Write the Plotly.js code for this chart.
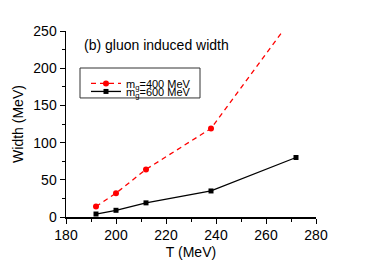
<!DOCTYPE html>
<html><head><meta charset="utf-8">
<script src="https://cdn.plot.ly/plotly-3.0.1.min.js"></script>
<style>html,body{margin:0;padding:0;background:#fff}</style>
</head><body>
<div id="chart" style="width:368px;height:260px"></div>
<script>
const T400 = [192, 200, 212, 238, 272];
const W400 = [14, 32, 64, 119, 274];
const T600 = [192, 200, 212, 238, 272];
const W600 = [4, 9, 19, 35, 80];
const name400 = 'm<sub>g</sub>=400 MeV';
const name600 = 'm<sub>g</sub>=600 MeV';
const label = '(b) gluon induced width';

const font = {family: 'Liberation Sans, Arial, sans-serif', color: '#000'};
const data = [
  {x: T400, y: W400, name: name400, mode: 'lines+markers', type: 'scatter', legend: 'legend',
   line: {color: '#ff0000', dash: '5px,4px', width: 1.3},
   marker: {color: '#ff0000', symbol: 'circle', size: 6}, cliponaxis: true},
  {x: T600, y: W600, name: name600, mode: 'lines+markers', type: 'scatter', legend: 'legend2',
   line: {color: '#000', width: 1.3},
   marker: {color: '#000', symbol: 'square', size: 5}}
];
const legFont = Object.assign({size: 11}, font);
const layout = {
  width: 368, height: 260,
  margin: {l: 66, r: 52, t: 31, b: 43},
  paper_bgcolor: '#fff', plot_bgcolor: '#fff',
  font: Object.assign({size: 13}, font),
  showlegend: true,
  legend: {x: 0.08, y: 0.796, xanchor: 'left', yanchor: 'top', borderwidth: 0,
    bgcolor: 'rgba(255,255,255,0)', font: legFont, itemwidth: 30},
  legend2: {x: 0.08, y: 0.753, xanchor: 'left', yanchor: 'top', borderwidth: 0,
    bgcolor: 'rgba(255,255,255,0)', font: legFont, itemwidth: 30},
  shapes: [{type: 'rect', xref: 'paper', yref: 'paper', x0: 0.056, x1: 0.536, y0: 0.64, y1: 0.801,
    line: {color: '#333', width: 1}, fillcolor: 'rgba(0,0,0,0)', layer: 'above'}],
  xaxis: {range: [180, 280], dtick: 20, tick0: 180, showgrid: false, zeroline: false,
    showline: true, linecolor: '#000', linewidth: 1.5, ticks: 'outside', ticklen: 5,
    tickcolor: '#000', tickfont: Object.assign({size: 14}, font),
    minor: {dtick: 10, ticks: 'outside', ticklen: 3, tickcolor: '#000', showgrid: false},
    title: {text: 'T (MeV)', font: Object.assign({size: 14}, font), standoff: 6}},
  yaxis: {range: [0, 250], dtick: 50, showgrid: false, zeroline: false,
    showline: true, linecolor: '#000', linewidth: 1.5, ticks: 'outside', ticklen: 5,
    tickcolor: '#000', tickfont: Object.assign({size: 14}, font),
    minor: {dtick: 25, ticks: 'outside', ticklen: 3, tickcolor: '#000', showgrid: false},
    title: {text: 'Width (MeV)', font: Object.assign({size: 14}, font), standoff: 6}},
  annotations: [{text: label, xref: 'paper', yref: 'paper', x: 0.064, y: 0.925,
    xanchor: 'left', yanchor: 'middle', showarrow: false, font: Object.assign({size: 14}, font)}]
};
Plotly.newPlot('chart', data, layout, {staticPlot: true, displayModeBar: false});
</script>
</body></html>
